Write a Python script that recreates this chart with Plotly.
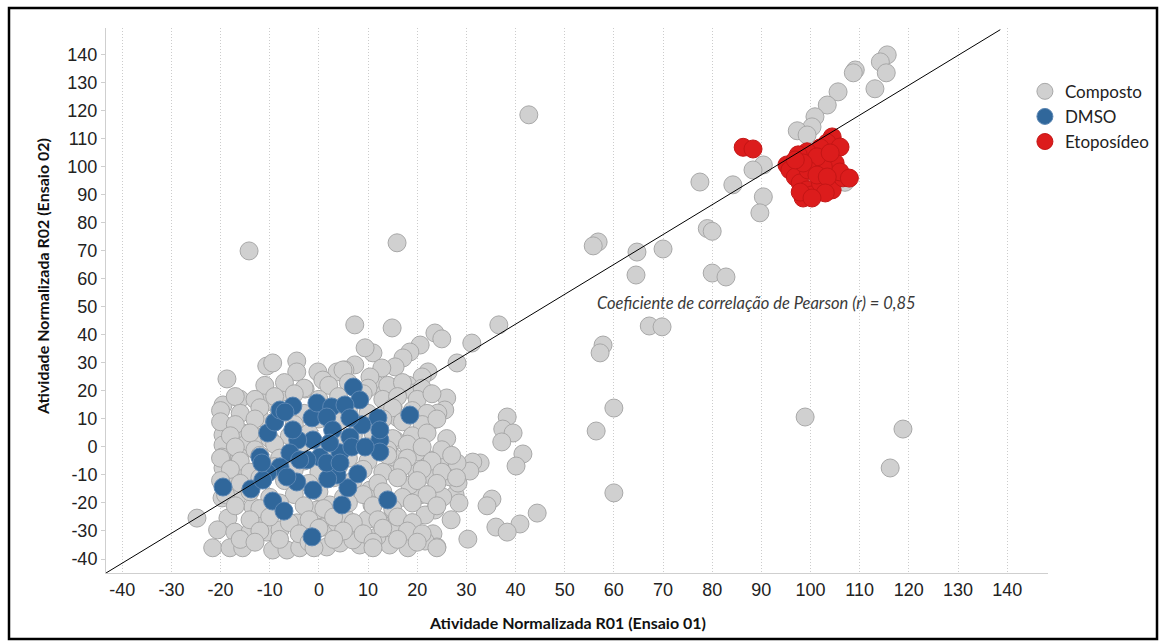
import plotly.graph_objects as go

# ---------------- data ----------------
# Composto (grey) - outliers / sparse points
comp_x = [115.6, 114.2, 115.4, 109.1, 108.7, 113.1, 105.6, 103.4, 100.9, 100.3, 97.3, 99.3,
          90.4, 88.3, 90.4, 89.7, 84.2, 77.5, 107.0,
          79.0, 80.0, 56.8, 55.8, 64.7, 70.0, 64.5, 80.0, 82.8, 67.2, 69.8, 57.8, 57.2,
          60.0, 56.4, 98.9, 118.8, 116.2, 60.0, 42.7, -14.2, 15.9,
          38.3, 37.4, 39.5, 37.2, 41.5, 40.1, 32.8, 35.2, 34.2, 44.4, 40.9, 36.0, 38.3,
          30.3, 31.3, 30.7, 27.7, 28.5, 26.9, 23.6, 21.6, 23.2, 24.0, 21.6, 18.1, 16.1, 14.4,
          20.6, 25.2, 28.3, 26.7, 23.2, 26.0, 19.9, 18.5, 22.6, 25.2, 28.1, 17.9, 16.1, 19.9,
          10.4, 9.8, 11.8, 8.3, 20.6, 15.5,
          7.3, 14.9, 23.6, 25.0, 31.1, 36.6, 20.6, 18.5, 17.1, 15.5, 11.0, 9.4, 12.8, 7.3, 5.3,
          28.1, 22.2, 21.0, 18.1, 19.5, 26.0, 25.6, 24.2, 22.6, 11.8, 13.4, 15.1, 16.1, 20.1, 10.4,
          -18.7, -19.5, -16.1, -19.5, -10.6, -9.4, -4.5, -4.5, -0.2, -2.8, -10.6, -12.0, -15.5,
          3.7, 4.9, 0.8, -6.5,
          -19.5, -19.5, -19.7, -19.5, -19.7, -24.8, -18.5, -20.6, -17.1, -14.0, -10.6, -7.9,
          -21.6, -18.1, -15.5, -9.4, -6.5, -3.9, 1.6, 4.3, -15.1, -16.1, -15.5, -16.7, -12.0,
          -13.4, -0.4, 2.2, 0.8, -4.5, 3.7, -12.6, -17.5,
          6.9, 5.7, 15.1, 5.3, 12.4, 10.8, 15.1,
          # interior of the main cluster
          -11, -7, -3, 2, 6, 10, 14, 17, 21,
          -17, -13, -9, -5, 0, 4, 9, 13, 16, 20, 23,
          -20, -16, -12, -8, -3, 1, 6, 10, 15, 19, 22,
          -20, -17, -13, -9, -5, 0, 4, 8, 13, 17, 21, 24,
          -18, -14, -10, -6, -2, 3, 7, 11, 15, 19, 22, 26,
          -17, -13, -9, -4, 1, 5, 10, 14, 18, 21, 25,
          -20, -16, -12, -8, -3, 2, 6, 10, 14, 18, 23, 27,
          -18, -14, -9, -5, 0, 4, 9, 13, 17, 21, 25,
          -20, -16, -12, -7, -2, 3, 7, 12, 16, 20, 24, 28,
          -19, -14, -10, -5, 0, 5, 9, 13, 17, 22,
          -17, -12, -8, -3, 1, 6, 11, 15, 19, 24,
          -14, -10, -6, -2, 3, 7, 12, 16, 19,
          -12, -4, 0, 5, 9, 13, 18, 21,
          -16, -13, -8, -2, 3, 11, 16, 20,
          -1, 11, 24]
comp_y = [140.0, 137.5, 133.6, 134.6, 133.6, 127.9, 126.8, 122.1, 117.9, 114.3, 112.9, 111.4,
          100.7, 98.9, 89.3, 83.6, 93.6, 94.6, 94.5,
          78.0, 77.0, 73.2, 71.8, 69.6, 70.7, 61.4, 62.1, 60.7, 43.2, 42.9, 36.4, 33.6,
          13.9, 5.7, 10.7, 6.4, -7.5, -16.4, 118.6, 70.0, 72.9,
          10.7, 6.4, 5.0, 1.8, -2.5, -6.8, -5.7, -18.6, -21.0, -23.6, -27.5, -28.6, -30.4,
          -32.9, -5.4, -8.6, -17.1, -20.0, -26.0, -22.5, -24.3, -31.0, -35.7, -33.6, -36.0, -29.6, -35.0,
          -17.1, -17.9, -12.9, -10.7, -10.7, -8.2, -8.9, -13.6, -4.6, -3.9, -5.7, -3.6, -8.9, -1.8,
          -15.4, -26.0, -32.1, -35.0, 2.5, 2.5,
          43.6, 42.5, 40.7, 38.6, 37.1, 43.6, 36.4, 33.9, 31.8, 28.6, 33.6, 35.4, 28.2, 29.3, 27.5,
          30.0, 26.8, 25.0, 22.1, 19.3, 17.5, 13.2, 12.1, 8.9, 22.1, 19.3, 14.3, 10.4, 13.2, 25.0,
          24.3, 15.0, 17.1, 7.9, 28.9, 30.0, 30.7, 26.8, 26.8, 20.7, 16.1, 10.4, 5.0,
          26.8, 27.5, 23.9, 19.6,
          4.3, 0.7, -3.6, -7.5, -18.2, -25.4, -25.4, -29.6, -30.4, -30.4, -30.4, -29.6,
          -36.0, -36.0, -36.0, -36.8, -36.8, -36.0, -35.7, -34.3, 0.7, -3.6, -8.2, -17.9, -25.0,
          -21.4, -22.5, -20.7, -28.6, -27.1, -27.1, 3.6, -11.8,
          -33.2, -28.6, -24.3, -25.0, -26.8, -20.7, -3.6,
          22, 23, 21, 22, 23, 21, 22, 23, 21,
          18, 17, 18, 19, 17, 18, 19, 17, 18, 17, 19,
          13, 12, 14, 13, 12, 14, 13, 12, 14, 13, 12,
          9, 8, 10, 9, 8, 10, 9, 8, 10, 9, 8, 10,
          4, 5, 3, 4, 5, 3, 4, 5, 3, 4, 5, 3,
          0, -1, 1, 0, -1, 1, 0, -1, 1, 0, -1,
          -4, -5, -3, -4, -5, -3, -4, -5, -3, -4, -5, -3,
          -8, -9, -7, -8, -9, -7, -8, -9, -7, -8, -9,
          -12, -13, -11, -12, -13, -11, -12, -13, -11, -12, -13, -11,
          -17, -16, -18, -17, -16, -18, -17, -16, -18, -17,
          -21, -22, -20, -21, -22, -20, -21, -22, -20, -21,
          -26, -25, -27, -26, -25, -27, -26, -25, -27,
          -30, -31, -29, -30, -31, -29, -30, -31,
          -33, -34, -33, -34, -33, -34, -33, -34,
          -36, -36, -36]

# DMSO (blue)
dmso_x = [7.0, 8.3, 18.5, -19.5, -13.8, -9.4, -7.1, -1.4, 4.7, 14.0, 5.9, -1.2, 7.9, 3.7,
          1.8, -4.5, 12.4, 12.4, 12.0, 8.8, 6.3, 4.3, 0.2, -1.2, -4.3, -5.9, -5.3, -1.4,
          -0.4, 2.6, 5.3, 1.6, 2.8, 6.3, 6.7, 9.4, 2.2, 1.6, -2.4, -7.9, -10.4, -11.4,
          -12.0, -11.6, -10.4, -9.0, -7.9, -5.3, -6.9, 12.4, -3.9, -6.5, 4.3]
dmso_y = [21.4, 16.8, 11.4, -14.3, -15.0, -19.3, -22.9, -32.1, -20.7, -18.9, -14.6, -15.4,
          -9.6, -10.0, -11.4, -12.5, 2.5, -1.8, 10.4, 7.9, 3.6, -2.1, -3.6, 2.5, 2.5, -2.1,
          6.1, 10.4, 15.7, 14.3, 15.0, 10.7, 6.1, 10.4, 0.0, 0.0, 1.4, -5.7, -4.6, -7.1,
          -9.3, -11.8, -3.6, -5.7, 5.0, 8.9, 13.2, 14.6, 12.5, 6.1, -4.6, -10.7, -5.7]

# Etoposídeo (red)
eto_x = [86.3, 88.3, 104.4, 103.4, 106.0, 102.0, 99.3, 97.5, 95.2, 95.8, 96.9, 97.9, 99.3,
         98.5, 100.3, 102.0, 104.4, 106.6, 105.0, 106.0, 102.6, 101.3, 99.5, 101.3, 103.4,
         98.5, 96.9, 104.0, 103.0, 97.9, 107.9, 100.3]
eto_y = [107.0, 106.4, 110.7, 108.6, 107.1, 106.8, 105.4, 104.3, 100.7, 98.9, 96.4, 94.3,
         91.8, 88.9, 90.0, 94.3, 91.8, 96.1, 101.4, 98.2, 100.0, 103.6, 98.9, 97.1, 96.4,
         101.4, 102.5, 105.0, 90.7, 91.0, 96.0, 88.9]

# trend line end points
line_x = [-43.3, 138.6]
line_y = [-45.0, 149.0]

x_ticks = list(range(-40, 141, 10))
y_ticks = list(range(-40, 141, 10))

# ---------------- figure ----------------
fig = go.Figure()
fig.add_trace(go.Scatter(x=comp_x, y=comp_y, mode="markers", name="Composto",
                         marker=dict(size=18, color="#d0d0d0",
                                     line=dict(color="#a8a8a8", width=1))))
fig.add_trace(go.Scatter(x=dmso_x, y=dmso_y, mode="markers", name="DMSO",
                         marker=dict(size=18, color="#30679b",
                                     line=dict(color="#5b86b3", width=1))))
fig.add_trace(go.Scatter(x=eto_x, y=eto_y, mode="markers", name="Etoposídeo",
                         marker=dict(size=18, color="#dc1c1c",
                                     line=dict(color="#c41515", width=1))))
fig.add_trace(go.Scatter(x=line_x, y=line_y, mode="lines", showlegend=False,
                         line=dict(color="black", width=1), hoverinfo="skip"))

tickfont = dict(family="Liberation Sans, Arial", size=18, color="#222222")
fig.update_xaxes(range=[-43.3, 148.3], tickvals=x_ticks, ticktext=[str(v) for v in x_ticks],
                 showgrid=True, gridcolor="#cccccc", griddash="1px,2px", gridwidth=1,
                 zeroline=False, showline=True, linecolor="#cfcfcf", linewidth=1,
                 ticks="", tickfont=tickfont)
fig.update_yaxes(range=[-45, 149.6], tickvals=y_ticks, ticktext=[str(v) for v in y_ticks],
                 showgrid=False, zeroline=False, showline=True, linecolor="#cfcfcf",
                 linewidth=1, ticks="outside", ticklen=4, tickcolor="#cfcfcf",
                 tickfont=tickfont)

title_font = dict(family="Lato, Open Sans", size=16, color="#111111")
fig.update_layout(
    width=1161, height=643,
    margin=dict(l=106, r=113, t=28, b=70, autoexpand=False),
    paper_bgcolor="white", plot_bgcolor="white",
    showlegend=True,
    legend=dict(x=0.9755, y=0.916, xanchor="left", yanchor="top",
                font=dict(family="Lato, Open Sans", size=17, color="#222222"),
                bgcolor="rgba(0,0,0,0)", itemsizing="trace"),
    annotations=[
        dict(text="<b>Atividade Normalizada R01 (Ensaio 01)</b>", xref="paper", yref="paper",
             x=(567 - 106) / 942, y=(573 - 622) / 545, showarrow=False, font=title_font,
             xanchor="center", yanchor="middle"),
        dict(text="<b>Atividade Normalizada R02 (Ensaio 02)</b>", xref="paper", yref="paper",
             x=(42 - 106) / 942, y=(573 - 277) / 545, showarrow=False, font=title_font,
             textangle=-90, xanchor="center", yanchor="middle"),
        dict(text="<i>Coeficiente de correlação de Pearson (r) = 0,85</i>", xref="x", yref="y",
             x=89.1, y=51.4, showarrow=False, xanchor="center", yanchor="middle",
             font=dict(family="Lato, Open Sans", size=16.5, color="#3a3a3a")),
    ],
    shapes=[dict(type="rect", xref="paper", yref="paper",
                 x0=(9 - 106) / 942, x1=(1157 - 106) / 942,
                 y0=(573 - 639) / 545, y1=(573 - 8) / 545,
                 line=dict(color="black", width=2.5), fillcolor="rgba(0,0,0,0)")],
)

fig.write_html("out.html")
